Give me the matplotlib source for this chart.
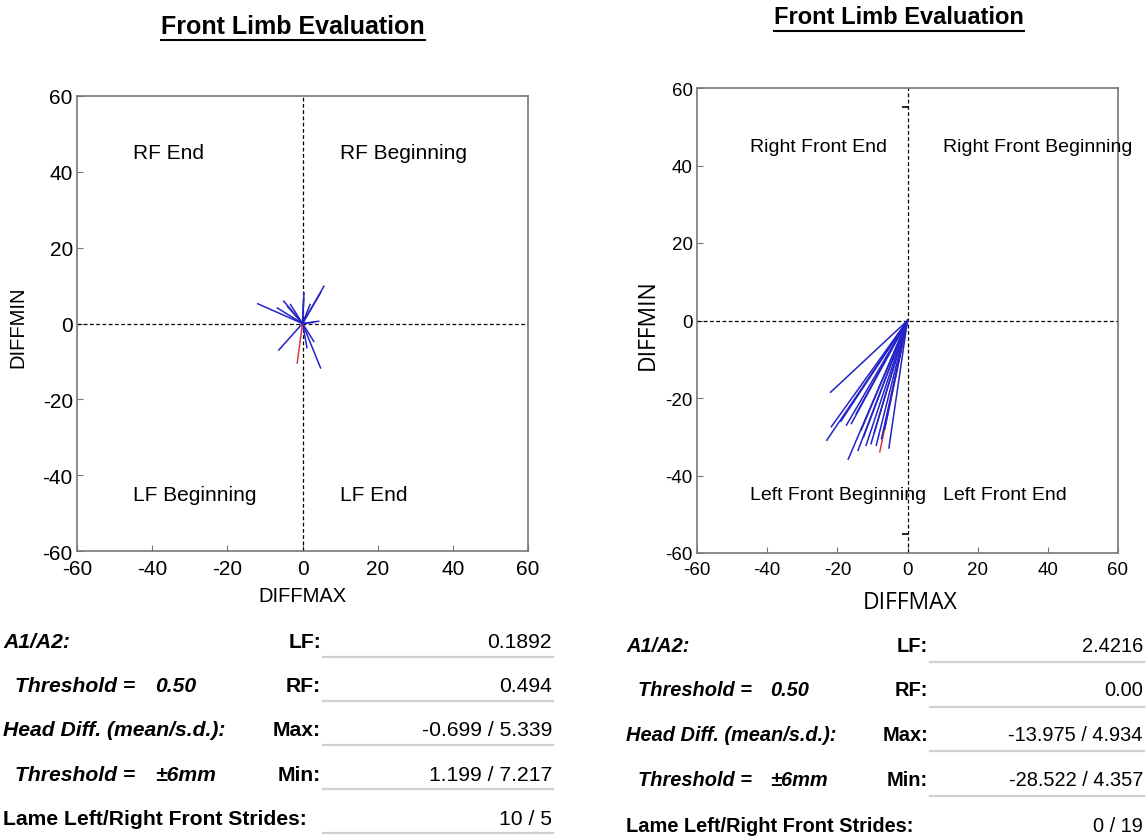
import matplotlib
matplotlib.use("Agg")
import matplotlib.pyplot as plt
from matplotlib.lines import Line2D

# ---------------- data ----------------
title = "Front Limb Evaluation"
quadrants_left = ["RF End", "RF Beginning", "LF Beginning", "LF End"]
quadrants_right = ["Right Front End", "Right Front Beginning", "Left Front Beginning", "Left Front End"]
ticks = [-60, -40, -20, 0, 20, 40, 60]

left_max = [5.7, 4.8, -11.9, -5.0, -6.7, -3.2, 0.4, 0.3, 4.3, 3.0, -6.3, 4.8, 3.0, 1.2, -1.4, -4.0, 2.0]
left_min = [9.8, 8.1, 5.2, 5.9, 4.1, 5.0, 8.1, 6.5, 0.6, 0.3, -7.0, -11.7, -4.7, -6.4, -10.4, 4.5, 5.0]
left_colors = ["b"] * 14 + ["r"] + ["b"] * 2

right_max = [-21.9, -21.7, -23.0, -17.4, -16.0, -16.9, -14.1, -13.2, -11.8, -10.4,
             -8.9, -7.9, -7.4, -5.3, -14.6, -12.5, -9.5, -19.0, -6.5]
right_min = [-18.5, -27.4, -30.9, -27.0, -26.6, -35.8, -33.5, -28.3, -32.2, -31.8,
             -32.2, -33.9, -30.5, -32.9, -24.0, -30.0, -29.0, -26.0, -28.0]
right_colors = ["b"] * 11 + ["r"] + ["b"] * 7

right_marks_x = [-0.8, -0.8]
right_marks_y = [55, -55]

row_labels = ["A1/A2:", "Threshold =", "Head Diff. (mean/s.d.):", "Threshold =", "Lame Left/Right Front Strides:"]
row_thresholds = ["", "0.50", "", "±6mm", ""]
row_keys = ["LF:", "RF:", "Max:", "Min:", ""]
left_values = ["0.1892", "0.494", "-0.699 / 5.339", "1.199 / 7.217", "10 / 5"]
right_values = ["2.4216", "0.00", "-13.975 / 4.934", "-28.522 / 4.357", "0 / 19"]

# ---------------- figure ----------------
W, H = 1146, 837
plt.rcParams['font.family'] = ['Liberation Sans', 'DejaVu Sans']
plt.rcParams['axes.unicode_minus'] = False
fig = plt.figure(figsize=(W / 100, H / 100), dpi=100)

def fx(px):
    return px / W

def fy(py):
    return 1 - py / H

BLUE = "#2323c8"
RED = "#d83a3a"
cmap = {"b": BLUE, "r": RED}


def make_axes(rect, xs, ys, cols, quads, tick_fs, quad_fs):
    ax = fig.add_axes(rect)
    ax.set_xlim(-60, 60)
    ax.set_ylim(-60, 60)
    ax.set_xticks(ticks)
    ax.set_yticks(ticks)
    for s in ax.spines.values():
        s.set_color("#777777")
        s.set_linewidth(1.2)
    ax.tick_params(direction="in", length=4, color="#777777", labelsize=tick_fs,
                   top=False, right=False)
    ax.tick_params(axis="x", pad=6)
    ax.tick_params(axis="y", pad=3)
    ax.axhline(0, color="black", ls=(0, (3, 2)), lw=0.9)
    ax.axvline(0, color="black", ls=(0, (3, 2)), lw=0.9)
    for x, y, c in zip(xs, ys, cols):
        ax.plot([0, x], [0, y], color=cmap[c], lw=1.1)
    ax.text(-45, 45, quads[0], fontsize=quad_fs, va="center", ha="left")
    ax.text(10, 45, quads[1], fontsize=quad_fs, va="center", ha="left")
    ax.text(-45, -45, quads[2], fontsize=quad_fs, va="center", ha="left")
    ax.text(10, -45, quads[3], fontsize=quad_fs, va="center", ha="left")
    return ax


axL = make_axes([fx(77), fy(552), fx(528) - fx(77), fy(97) - fy(552)],
                left_max, left_min, left_colors, quadrants_left, 15, 15)
axR = make_axes([fx(697), fy(554), fx(1118) - fx(697), fy(89) - fy(554)],
                right_max, right_min, right_colors, quadrants_right, 13.5, 14)
axR.plot(right_marks_x, right_marks_y, ls="none", marker="_", ms=4, mew=1.2, color="black")

# axis labels
fig.text(fx(302), fy(597), "DIFFMAX", fontsize=14.5, ha="center", va="center")
fig.text(fx(18), fy(327), "DIFFMIN", fontsize=14.5, ha="center", va="center", rotation=90)
fig.text(fx(910), fy(603), "DIFFMAX", fontsize=16.5, ha="center", va="center",
         family=["Open Sans", "DejaVu Sans"])
fig.text(fx(648), fy(325), "DIFFMIN", fontsize=16.5, ha="center", va="center", rotation=90,
         family=["Open Sans", "DejaVu Sans"])

# titles with underline
titles = []
titles.append(fig.text(fx(293), fy(27), title, fontsize=18, fontweight="bold", ha="center", va="center"))
titles.append(fig.text(fx(899), fy(18), title, fontsize=17, fontweight="bold", ha="center", va="center"))

# tables
def table(x_lab, x_thr_lab, x_thr, x_key, x_val, x_line0, rows_y, lines_y, values, fs):
    for i, (lab, thr, key, val, y) in enumerate(zip(row_labels, row_thresholds, row_keys, values, rows_y)):
        if i == 4:
            fig.text(fx(x_lab), fy(y), lab, fontsize=fs, fontweight="bold", ha="left", va="center")
        elif thr:
            fig.text(fx(x_thr_lab), fy(y), lab, fontsize=fs, fontweight="bold", style="italic",
                     ha="left", va="center")
            fig.text(fx(x_thr), fy(y), thr, fontsize=fs, fontweight="bold", style="italic",
                     ha="left", va="center")
        else:
            fig.text(fx(x_lab), fy(y), lab, fontsize=fs, fontweight="bold", style="italic",
                     ha="left", va="center")
        if key:
            fig.text(fx(x_key), fy(y), key, fontsize=fs, fontweight="bold", ha="right", va="center")
        fig.text(fx(x_val), fy(y), val, fontsize=fs, ha="right", va="center")
    for ly in lines_y:
        fig.add_artist(Line2D([fx(x_line0), fx(x_val + 1)], [fy(ly), fy(ly)],
                              color="#d0d0d0", lw=1.6, transform=fig.transFigure))


table(3, 15, 155, 321, 552, 323, [642, 687, 731, 776, 820], [658, 702, 746, 790, 834], left_values, 15.2)
table(626, 638, 770, 928, 1143, 930, [647, 691, 736, 781, 827], [663, 708, 752, 797], right_values, 14.4)

fig.canvas.draw()
r = fig.canvas.get_renderer()
for t in titles:
    bb = t.get_window_extent(renderer=r)
    yline = bb.y0 - 2
    fig.add_artist(Line2D([bb.x0 / W, bb.x1 / W], [yline / H, yline / H], color="black", lw=1.5,
                          transform=fig.transFigure))

fig.savefig("out.png", dpi=100)
